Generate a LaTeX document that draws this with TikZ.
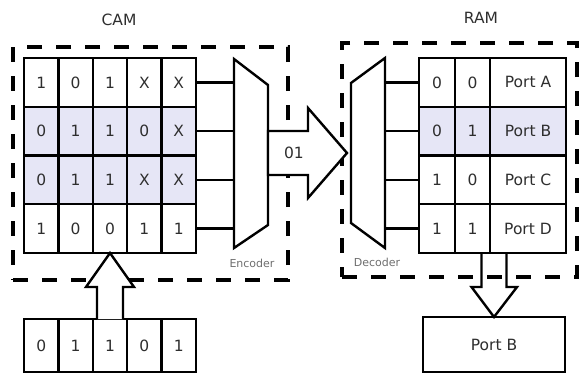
\documentclass[tikz,border=0pt]{standalone}
\usepackage{fontspec}
\setmainfont{DejaVu Sans}
\usepackage{tikz}
\usetikzlibrary{
  arrows.meta,
  positioning,
  calc,
}
\definecolor{cellText}{HTML}{2E2E2E}
\definecolor{matchBg}{HTML}{E6E6F6}
\definecolor{labelGray}{HTML}{6E6E6E}
\tikzset{
  cell/.style={
    rectangle, draw=black, line width=2.4pt, fill=white,
    inner sep=0pt, outer sep=0pt, text=cellText,
    font=\fontsize{15.5}{18}\selectfont, align=center,
  },
  frame/.style={
    rectangle, draw=black, line width=3.2pt,
    dash pattern=on 15pt off 14pt,
    inner sep=0pt, outer sep=0pt,
  },
  title/.style={
    font=\fontsize{15.5}{18}\selectfont, text=cellText, inner sep=0pt,
  },
  blocklabel/.style={
    font=\fontsize{11}{13}\selectfont, text=labelGray, inner sep=0pt,
  },
  wire/.style={line width=2.4pt, draw=black},
  mux/.style={line width=2.4pt, draw=black, fill=white, line join=miter},
  fatArrow/.style={line width=2.4pt, draw=black, fill=white, line join=miter},
}

\begin{document}
\begin{tikzpicture}[x=1pt, y=-1pt]
\useasboundingbox (0,0) rectangle (579,375);

% dashed frames
\node[frame, minimum width=275pt, minimum height=233pt] (camframe) at (150.5,163.5) {};
\node[frame, minimum width=235pt, minimum height=234pt] (ramframe) at (459.5,160) {};

\node[title] (camtitle) at (119,20) {CAM};
\node[title] (ramtitle) at (481,18) {RAM};

% CAM table
\foreach \r/\bits/\bg in {%
  1/{1,0,1,X,X}/white,%
  2/{0,1,1,0,X}/matchBg,%
  3/{0,1,1,X,X}/matchBg,%
  4/{1,0,0,1,1}/white%
}
{
  \foreach \b [count=\c] in \bits
  {
    \pgfmathsetmacro{\cx}{24+34.4*(\c-0.5)}
    \pgfmathsetmacro{\cy}{58+48.75*(\r-0.5)}
    \node[cell, fill=\bg, minimum width=34.4pt, minimum height=48.75pt]
      (c\r\c) at (\cx,\cy) {\b};
  }
}

% search key
\foreach \b [count=\c] in {0,1,1,0,1}
{
  \pgfmathsetmacro{\cx}{24+34.4*(\c-0.5)}
  \node[cell, minimum width=34.4pt, minimum height=53pt]
    (k\c) at (\cx,345.5) {\b};
}

% RAM table
\foreach \r/\a/\b/\port/\bg in {%
  1/0/0/A/white,%
  2/0/1/B/matchBg,%
  3/1/0/C/white,%
  4/1/1/D/white%
}
{
  \pgfmathsetmacro{\cy}{58+48.75*(\r-0.5)}
  \node[cell, fill=\bg, minimum width=36pt, minimum height=48.75pt]
    (r\r1) at (437,\cy) {\a};
  \node[cell, fill=\bg, minimum width=35pt, minimum height=48.75pt]
    (r\r2) at (472.5,\cy) {\b};
  \node[cell, fill=\bg, minimum width=76pt, minimum height=48.75pt]
    (r\r3) at (528,\cy) {Port \port};
}

\node[cell, minimum width=142pt, minimum height=55pt] (out) at (494,344.5) {Port B};

% encoder / decoder
\coordinate (enc) at (234,59);
\coordinate (dec) at (385,58);
\draw[mux] (234,59) -- (268,85) -- (268,225) -- (234,248) -- cycle;
\draw[mux] (351,83) -- (385,58) -- (385,248) -- (351,223) -- cycle;
\node[blocklabel] (enclabel) at (252,263) {Encoder};
\node[blocklabel] (declabel) at (377,262) {Decoder};

\foreach \r in {1,2,3,4}
{
  \draw[wire] (c\r5.east) -- (c\r5.east -| enc);
  \draw[wire] (r\r1.west) -- (r\r1.west -| dec);
}

% match address
\draw[fatArrow] (268,131) -- (308,131) -- (308,108) -- (347,153)
  -- (308,198) -- (308,175) -- (268,175) -- cycle;
\node[title] (addr) at (294,153) {01};

% key into CAM
\draw[fatArrow] ($(k3.north)+(-13,0)$) -- ++(0,-32) -- ++(-11,0) -- (c43.south)
  -- ($(c43.south)+(24,34)$) -- ++(-11,0) -- ($(k3.north)+(13,0)$);

% read out of RAM
\draw[line width=2.4pt, line join=miter] ($(out.north)+(-12.5,-64)$) -- ++(0,34) -- ++(-10,0)
  -- (out.north) -- ($(out.north)+(23,-30)$) -- ++(-10.5,0) -- ++(0,-34);

\end{tikzpicture}
\end{document}
